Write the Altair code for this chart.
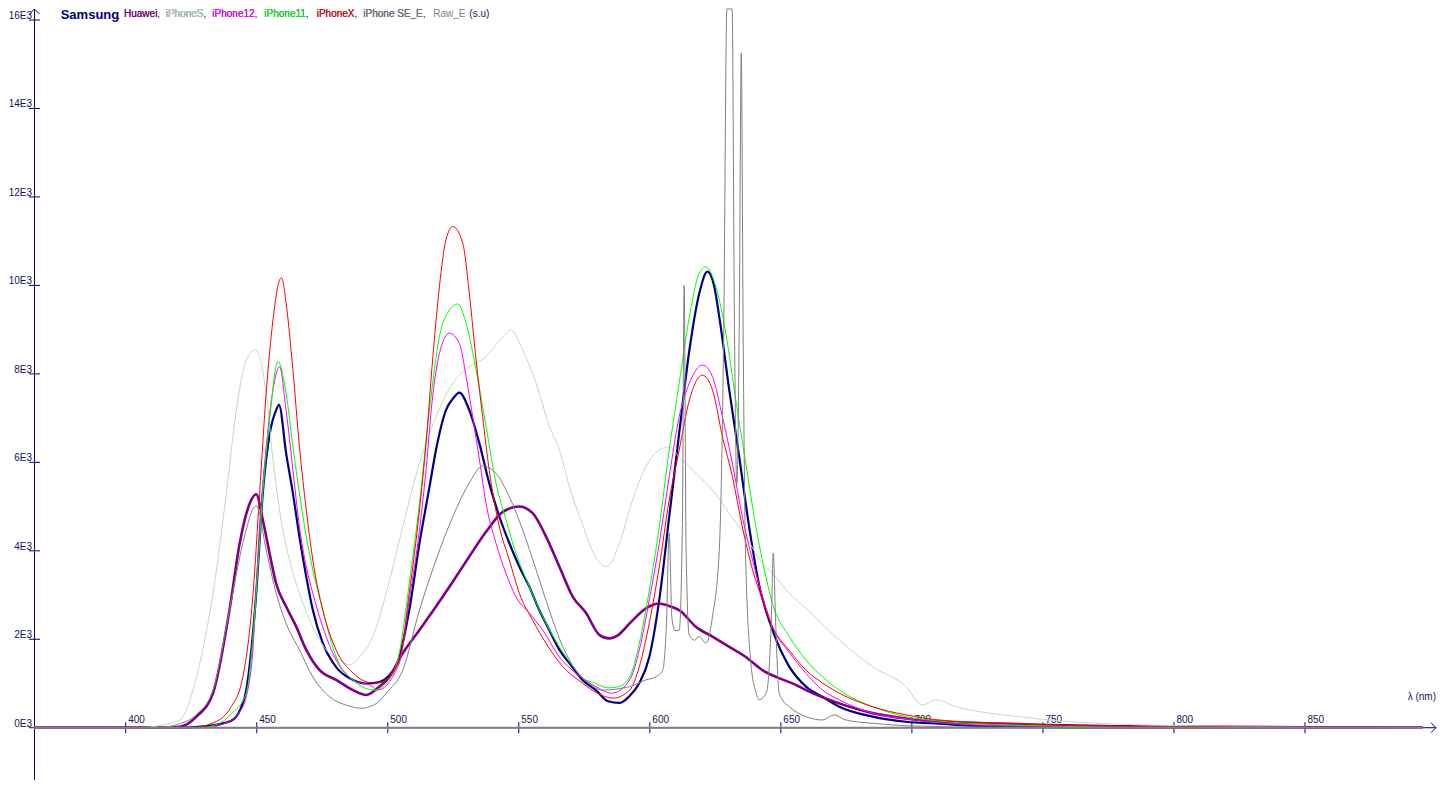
import altair as alt
import pandas as pd

# ---------------- data ----------------
samsung_wl = [365, 420, 430, 440, 444, 446, 448, 449.8, 452.3, 455, 457.4, 458.5, 461.2, 463.8, 466.3,
              468.9, 471.4, 475.2, 480.3, 486.7, 492, 496.8, 500, 504.4, 508.2, 512.1, 515.9, 518.4,
              522.2, 525, 527.3, 531.1, 534.9, 538.7, 542.6, 546.4, 550.2, 554, 557.8, 561.6, 565.5,
              569.3, 574.3, 579.4, 584, 588.4, 592, 596, 599.8, 603.6, 607.4, 611.2, 615.1, 618.9,
              622, 624.6, 626.5, 630.3, 634.1, 637.9, 641.7, 646.8, 653.2, 659.6, 665.9, 672.3, 685,
              697.7, 710.4, 730, 760, 895]
samsung_val = [0, 0, 30, 150, 450, 850, 1800, 3040, 5300, 6660, 7180, 7300, 6210, 5300, 4310,
               3410, 2660, 1910, 1370, 1080, 1000, 1030, 1150, 1600, 2660, 4170, 5440, 6280,
               7180, 7450, 7575, 7180, 6440, 5530, 4770, 4170, 3640, 3190, 2660, 2210, 1760,
               1460, 1080, 850, 600, 560, 700, 1010, 1600, 2890, 4770, 6660, 8540, 9830,
               10310, 9970, 9290, 7640, 6130, 4540, 3230, 2210, 1380, 930, 700, 475, 250,
               135, 90, 30, 10, 0]

huawei_wl = [365, 415, 420.6, 427, 433.3, 439.6, 443.5, 447.3, 449.8, 452.3, 454.9, 457.4, 461.2,
             465.1, 468.9, 474, 480.3, 486.7, 491.8, 496.8, 500, 505.7, 512.1, 518.4, 524.8, 531.1,
             537.5, 543.9, 550.2, 555.3, 560.4, 565.5, 570.6, 575.6, 580.7, 584.5, 588, 592.3,
             598.5, 603.6, 607, 611.2, 617.6, 623.9, 630.3, 636.6, 643, 649.3, 655.7, 659.6,
             672.3, 685, 697.7, 710.4, 735.8, 780, 895]
huawei_val = [0, 0, 20, 250, 780, 2660, 4170, 5070, 5280, 4700, 3940, 3260, 2740,
              2280, 1760, 1300, 1080, 850, 740, 930, 1100, 1680, 2210, 2740, 3300, 3870,
              4430, 4880, 5000, 4850, 4320, 3640, 2960, 2600, 2100, 2020, 2100, 2360,
              2700, 2810, 2760, 2660, 2280, 2060, 1830, 1600, 1300, 1120, 970, 850,
              550, 330, 210, 140, 90, 30, 0]

iphones_wl = [365, 405, 412, 420.6, 427, 433.3, 438.4, 442.2, 446, 449.4, 453.6, 456.2, 458.7,
              462.5, 466.3, 471.4, 476.5, 481.6, 485.4, 489.2, 494.3, 499.4, 505.7, 512.1, 518.4,
              524.8, 531.1, 537.5, 543.9, 547.1, 551.5, 556.6, 561.7, 565.5, 569.3, 574.3, 579.4,
              583.5, 588.4, 593.4, 598.5, 603.6, 607.4, 611.2, 617.6, 623.9, 630.3, 636.6, 643,
              646.8, 653, 659.6, 672.3, 685, 697.7, 704, 709.2, 716.8, 729.5, 741, 752, 771,
              809, 850, 895]
iphones_val = [0, 0, 40, 175, 1150, 3040, 5300, 7180, 8310, 8540, 7560, 6050, 4920,
               3790, 3040, 2280, 1760, 1530, 1420, 1600, 2060, 3040, 4540, 5980, 7030,
               7790, 8160, 8390, 8840, 8990, 8540, 7790, 6810, 6280, 5450, 4600, 3850,
               3640, 4170, 5150, 5900, 6280, 6350, 6130, 5750, 5370, 4850, 4320, 3720,
               3490, 3050, 2700, 1980, 1380, 930, 510, 630, 475, 330, 250, 175, 100,
               40, 10, 0]

iphone12_wl = [365, 430, 437, 444, 448, 451.1, 453.6, 456.2, 458.7, 461.2, 463.8, 466.3, 468.9,
               471.4, 475.2, 480.3, 486.7, 494.3, 496, 504.4, 508.2, 512.1, 514.6, 517.1, 519.7,
               523.5, 527.3, 529.9, 532.4, 535, 537.5, 541.3, 545.1, 548.9, 554, 559.1, 565.5,
               571.8, 579.4, 585.4, 592.3, 596, 599.8, 603.6, 607.4, 611.2, 615.1, 620.1, 623.9,
               627.7, 631.5, 635.3, 639.2, 643, 646.8, 653.2, 659.6, 665.9, 672.3, 685, 697.7,
               710.4, 740, 895]
iphone12_val = [0, 0, 80, 400, 1400, 4540, 6350, 7640, 8160, 7180, 5830, 4540, 3640,
                3040, 2280, 1530, 1080, 930, 850, 1460, 2890, 4470, 5830, 7480, 8460,
                8920, 8690, 7940, 7030, 6050, 5070, 4170, 3490, 2960, 2590, 2210, 1600,
                1230, 930, 780, 1080, 1760, 2890, 4170, 5680, 7030, 7790, 8200, 7940,
                7030, 5980, 4770, 3790, 2960, 2280, 1700, 1230, 850, 630, 330, 200,
                110, 40, 0]

iphone11_wl = [365, 428, 435, 441, 446, 449.8, 452.3, 454.9, 458.1, 461.2, 463.8, 466.3, 468.9,
               471.4, 475.2, 480.3, 486.7, 495, 500, 504.4, 508.2, 512.1, 515.9, 519.7, 523.5,
               526.7, 529.9, 533.7, 537.5, 541.3, 545.1, 548.9, 554, 559.1, 565.5, 571.8, 574,
               579.4, 584, 588, 592.3, 596, 599.8, 603.6, 607.4, 611.2, 615.1, 618.9, 621.4,
               625.2, 629, 632.8, 636.6, 640.5, 644.3, 646.8, 653.2, 659.6, 665.9, 672.3, 685,
               697.7, 710.4, 740, 780, 895]
iphone11_val = [0, 0, 80, 350, 780, 3040, 5300, 6960, 8280, 7570, 6350, 5300, 4320,
                3570, 2660, 1600, 1080, 850, 1050, 1690, 3270, 5080, 7180, 8840, 9440,
                9580, 9140, 8090, 6810, 5530, 4700, 3950, 3190, 2510, 1830, 1300, 1150,
                1000, 900, 930, 1150, 1910, 3110, 4540, 6280, 7790, 9290, 10280, 10420,
                9970, 8920, 7410, 5980, 4540, 3410, 2810, 2060, 1530, 1150, 850, 475,
                250, 150, 60, 20, 0]

iphonex_wl = [365, 425, 433, 440, 444.7, 448.6, 451.1, 453.6, 456.2, 458.7, 459.5, 461.2, 463.8,
              466.3, 468.9, 471.4, 475.2, 480.3, 486.7, 494.3, 498, 504.4, 508.2, 512.1, 514.6,
              517.1, 519.7, 522.2, 524.8, 528.6, 531.1, 533.7, 536.2, 538.7, 542.6, 546.4, 550.2,
              555.3, 560.4, 566.8, 574.3, 580, 586, 592.3, 596, 599.8, 603.6, 607.4, 611.2, 615.1,
              620.1, 623.9, 627.7, 631.5, 635.3, 639.2, 643, 646.8, 653.2, 659.6, 665.9, 672.3,
              685, 697.7, 710.4, 735.8, 780, 895]
iphonex_val = [0, 0, 100, 450, 1150, 3040, 5300, 7570, 9220, 10120, 10170, 9600, 8090,
               6350, 4920, 3790, 2660, 1760, 1240, 1010, 1040, 1530, 3040, 4920, 6430,
               8310, 9970, 11030, 11330, 10960, 9830, 8310, 7030, 5830, 4540, 3790, 3040,
               2430, 1910, 1380, 1010, 780, 670, 850, 1380, 2370, 3640, 5150, 6280, 7410,
               7970, 7640, 6580, 5680, 4540, 3570, 2890, 2280, 1750, 1300, 1010, 780,
               475, 290, 175, 100, 30, 0]

iphonese_wl = [365, 412, 420, 427, 433.3, 439.6, 444.7, 449.8, 453.6, 457.4, 461.2, 466.3, 471.4,
               477.8, 484.1, 490.5, 493, 496.8, 499.4, 505.7, 512.1, 518.4, 524.8, 531.1, 536.2,
               541.3, 546.4, 551.5, 556.6, 561.6, 566.8, 571.8, 576.9, 581.6, 592.3, 598.5, 602.3,
               604.9, 606.3, 607.4, 608.4, 609.6, 611.2, 612.4, 613.1, 613.8, 615, 617, 618.9, 621.4,
               623.9, 626.5, 628.2, 629.4, 631.4, 632.3, 633.2, 634.1, 634.9, 635.6, 636.5, 638.5,
               640.5, 641.7, 644.5, 646.4, 647.1, 648, 649.3, 650.6, 653.2, 659.6, 665.9, 670.3,
               674.8, 685, 700, 730, 895]
iphonese_val = [0, 0, 80, 300, 850, 2660, 4170, 5020, 4020, 3040, 2360, 1760, 1150,
                700, 510, 440, 475, 600, 780, 1300, 2660, 3790, 4770, 5530, 5920,
                5750, 5220, 4470, 3570, 2660, 1830, 1300, 1000, 850, 930, 1080, 1150,
                1300, 2300, 4400, 2500, 2200, 2200, 4500, 10000, 4200, 2100, 1980, 2060, 1910,
                2510, 4020, 9000, 16250, 16250, 9000, 5500, 9000, 15250, 9000, 4000, 1500,
                800, 630, 800, 2500, 3950, 2400, 800, 630, 475, 250, 175, 290,
                175, 100, 40, 10, 0]

raw_wl = [365, 895]
raw_val = [0, 0]

series_names = ["Samsung", "Huawei", "iPhoneS", "iPhone12", "iPhone11", "iPhoneX",
                "iPhone SE_E", "Raw_E"]
unit_text = "(s.u)"

x_ticks = [400, 450, 500, 550, 600, 650, 700, 750, 800, 850]
x_tick_labels = ["400", "450", "500", "550", "600", "650", "700", "750", "800", "850"]
y_ticks = [0, 2000, 4000, 6000, 8000, 10000, 12000, 14000, 16000]
y_tick_labels = ["0E3", "2E3", "4E3", "6E3", "8E3", "10E3", "12E3", "14E3", "16E3"]
x_range = [365, 900]
y_range = [-1182, 16272]

# ---------------- styles ----------------
NAVY = "#000080"
LABEL = "#14145a"
FONT = "Liberation Sans"
styles = {
    "Samsung": ("#000080", 2.2),
    "Huawei": ("#800080", 2.6),
    "iPhoneS": ("#c0dcc0", 1.0),
    "iPhone12": ("#ff00ff", 1.0),
    "iPhone11": ("#00ff00", 1.0),
    "iPhoneX": ("#ff0000", 1.0),
    "iPhone SE_E": ("#808080", 1.0),
    "Raw_E": ("#808080", 2.0),
}
legend_x = {"Huawei": 90, "iPhoneS": 131.7, "iPhone12": 178.3, "iPhone11": 230.3,
            "iPhoneX": 282.7, "iPhone SE_E": 329.3, "Raw_E": 399.3}
UNIT_X = 435.3
TITLE_Y = 11
LEGEND_Y = 8.5

W, H = 1402, 772
xs = alt.Scale(domain=x_range, nice=False, zero=False)
ys = alt.Scale(domain=y_range, nice=False, zero=False)


def X(f):
    return alt.X(f, type="quantitative", scale=xs, axis=None)


def Y(f):
    return alt.Y(f, type="quantitative", scale=ys, axis=None)


series_data = {
    "Samsung": (samsung_wl, samsung_val),
    "Huawei": (huawei_wl, huawei_val),
    "iPhoneS": (iphones_wl, iphones_val),
    "iPhone12": (iphone12_wl, iphone12_val),
    "iPhone11": (iphone11_wl, iphone11_val),
    "iPhoneX": (iphonex_wl, iphonex_val),
    "iPhone SE_E": (iphonese_wl, iphonese_val),
    "Raw_E": (raw_wl, raw_val),
}

dummy = pd.DataFrame({"d": [0]})
axis_df = pd.DataFrame({"a": [x_range[0]], "b": [x_range[1]], "z": [0]})
layers = []

# axes lines
layers.append(alt.Chart(dummy).mark_rule(color=NAVY, strokeWidth=1).encode(
    x=alt.value(0.5), y=alt.value(1), y2=alt.value(H)))
layers.append(alt.Chart(axis_df).mark_rule(color=NAVY, strokeWidth=1).encode(
    x=X("a"), x2="b", y=Y("z")))
# arrow heads
layers.append(alt.Chart(dummy).mark_point(shape="M -1 1 L 0 0 L 1 1", size=100, filled=False,
                                          color=NAVY, strokeWidth=1, opacity=1).encode(
    x=alt.value(0.5), y=alt.value(1)))
layers.append(alt.Chart(axis_df).mark_point(shape="M -1 -1 L 0 0 L -1 1", size=100, filled=False,
                                            color=NAVY, strokeWidth=1, opacity=1).encode(
    x=X("b"), y=Y("z")))

# ticks
ytdf = pd.DataFrame({"v": y_ticks, "lab": y_tick_labels})
xtdf = pd.DataFrame({"v": x_ticks, "lab": x_tick_labels, "z": [0] * len(x_ticks)})
layers.append(alt.Chart(ytdf).mark_rule(color=NAVY, strokeWidth=1).encode(
    x=alt.value(-5), x2=alt.value(6), y=Y("v")))
layers.append(alt.Chart(xtdf).mark_tick(color=NAVY, orient="vertical", size=11, thickness=1, opacity=1).encode(
    x=X("v"), y=Y("z")))

# tick labels
layers.append(alt.Chart(ytdf).mark_text(align="right", baseline="alphabetic", dy=-1, font=FONT,
                                        fontSize=10, color=LABEL).encode(
    x=alt.value(-2), y=Y("v"), text="lab:N"))
layers.append(alt.Chart(xtdf).mark_text(align="left", baseline="alphabetic", dx=2.5, dy=-5, font=FONT,
                                        fontSize=10, color=LABEL).encode(
    x=X("v"), y=Y("z"), text="lab:N"))
layers.append(alt.Chart(axis_df).mark_text(align="right", baseline="alphabetic", dy=-28, font=FONT,
                                           fontSize=10, color=LABEL, text="λ (nm)").encode(
    x=X("b"), y=Y("z")))

# series lines
for name in series_names:
    wl, val = series_data[name]
    col, sw = styles[name]
    df = pd.DataFrame({"wl": wl, "val": val})
    layers.append(alt.Chart(df).mark_line(color=col, strokeWidth=sw, interpolate="monotone").encode(
        x=X("wl"), y=Y("val")))

# title / legend text
layers.append(alt.Chart(dummy).mark_text(align="left", baseline="alphabetic", font=FONT, fontSize=13,
                                         fontWeight="bold", color=NAVY, text=series_names[0]).encode(
    x=alt.value(26.7), y=alt.value(TITLE_Y)))
layers.append(alt.Chart(dummy).mark_text(align="left", baseline="alphabetic", font=FONT, fontSize=10,
                                         color=NAVY, text=".").encode(
    x=alt.value(83.3), y=alt.value(TITLE_Y)))
for name in series_names[1:]:
    col, _ = styles[name]
    lx = legend_x[name]
    if name != "Raw_E":
        layers.append(alt.Chart(dummy).mark_text(align="left", baseline="alphabetic", font=FONT, fontSize=10,
                                                 color=LABEL, text=name + ",").encode(
            x=alt.value(lx), y=alt.value(LEGEND_Y)))
    layers.append(alt.Chart(dummy).mark_text(align="left", baseline="alphabetic", font=FONT, fontSize=10,
                                             color=col, text=name).encode(
        x=alt.value(lx), y=alt.value(LEGEND_Y)))
layers.append(alt.Chart(dummy).mark_text(align="left", baseline="alphabetic", font=FONT, fontSize=10,
                                         color=LABEL, text=unit_text).encode(
    x=alt.value(UNIT_X), y=alt.value(LEGEND_Y)))

chart = alt.layer(*layers).properties(
    width=W, height=H,
    padding={"left": 26, "top": 0, "right": 3, "bottom": 0},
    autosize=alt.AutoSizeParams(type="none"),
    background="white",
).configure_view(stroke="transparent")

chart.save("out.html", embed_options={"renderer": "svg", "actions": False})
